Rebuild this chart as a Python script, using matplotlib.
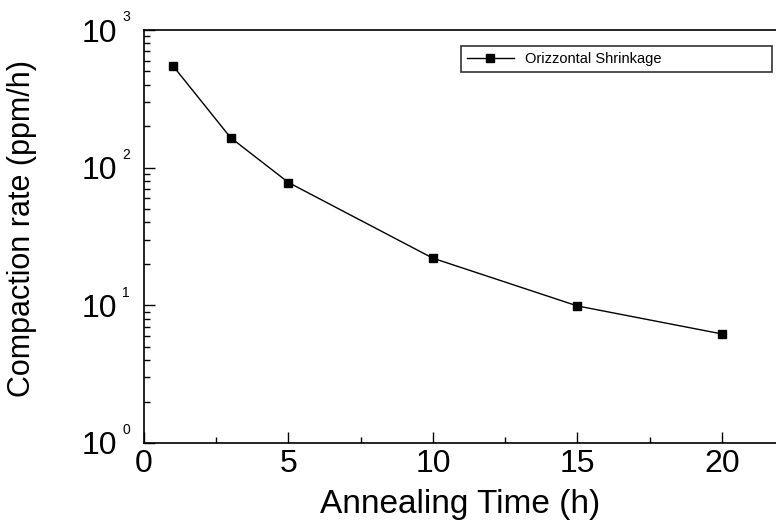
import matplotlib
matplotlib.use('Agg')
import matplotlib.pyplot as plt
import matplotlib.transforms as mtransforms
from matplotlib.ticker import MultipleLocator, LogLocator, NullFormatter

plt.rcParams['font.family'] = ['Liberation Sans', 'DejaVu Sans']

# data
anneal_time = [1, 3, 5, 10, 15, 20]          # h
compaction = [550, 165, 78, 22, 9.9, 6.2]    # ppm/h
series_name = 'Orizzontal Shrinkage'
decades = [0, 1, 2, 3]

fig = plt.figure(figsize=(7.76, 5.28), dpi=100)
ax = fig.add_axes([144 / 776, 85 / 528, 650 / 776, 413 / 528])

ax.plot(anneal_time, compaction, '-', color='black', lw=1.0,
        marker='s', markersize=6, label=series_name)

ax.set_yscale('log')
ax.set_xlim(0, 22.5)
ax.set_ylim(1, 1000)

ax.xaxis.set_major_locator(MultipleLocator(5))
ax.xaxis.set_minor_locator(MultipleLocator(2.5))
ax.yaxis.set_minor_locator(LogLocator(base=10, subs=range(2, 10)))
ax.yaxis.set_minor_formatter(NullFormatter())
ax.set_yticks([10 ** d for d in decades])
ax.set_yticklabels(['10'] * len(decades))

# small raised exponents, Origin style
trans = mtransforms.blended_transform_factory(ax.transAxes, ax.transData)
for d in decades:
    ax.annotate(str(d), xy=(0, 10 ** d), xycoords=trans,
                xytext=(-13, 4), textcoords='offset points',
                fontsize=10, ha='center', va='bottom', annotation_clip=False)

ax.tick_params(which='both', direction='in', top=False, right=False,
               labelsize=23, width=1.0)
ax.tick_params(which='major', length=8)
ax.tick_params(which='minor', length=4)
ax.tick_params(axis='x', pad=4)
ax.tick_params(axis='y', pad=19)

for s in ['left', 'bottom', 'top']:
    ax.spines[s].set_linewidth(1.2)
ax.spines['right'].set_visible(False)

ax.set_xlabel('Annealing Time (h)', fontsize=24)
ax.xaxis.set_label_coords(0.486, -0.112)
ax.set_ylabel('Compaction rate (ppm/h)', fontsize=22)
ax.yaxis.set_label_coords(-0.165, 0.52)

leg = ax.legend(loc='lower left', bbox_to_anchor=(461 / 776, 456 / 528, 311 / 776, 24 / 528),
                bbox_transform=fig.transFigure, mode='expand', fontsize=10.5,
                frameon=True, fancybox=False, edgecolor='black',
                handlelength=3.2, handletextpad=0.8, borderpad=0.4,
                borderaxespad=0)
leg.get_frame().set_linewidth(1.2)

fig.savefig('out.png', dpi=100)
